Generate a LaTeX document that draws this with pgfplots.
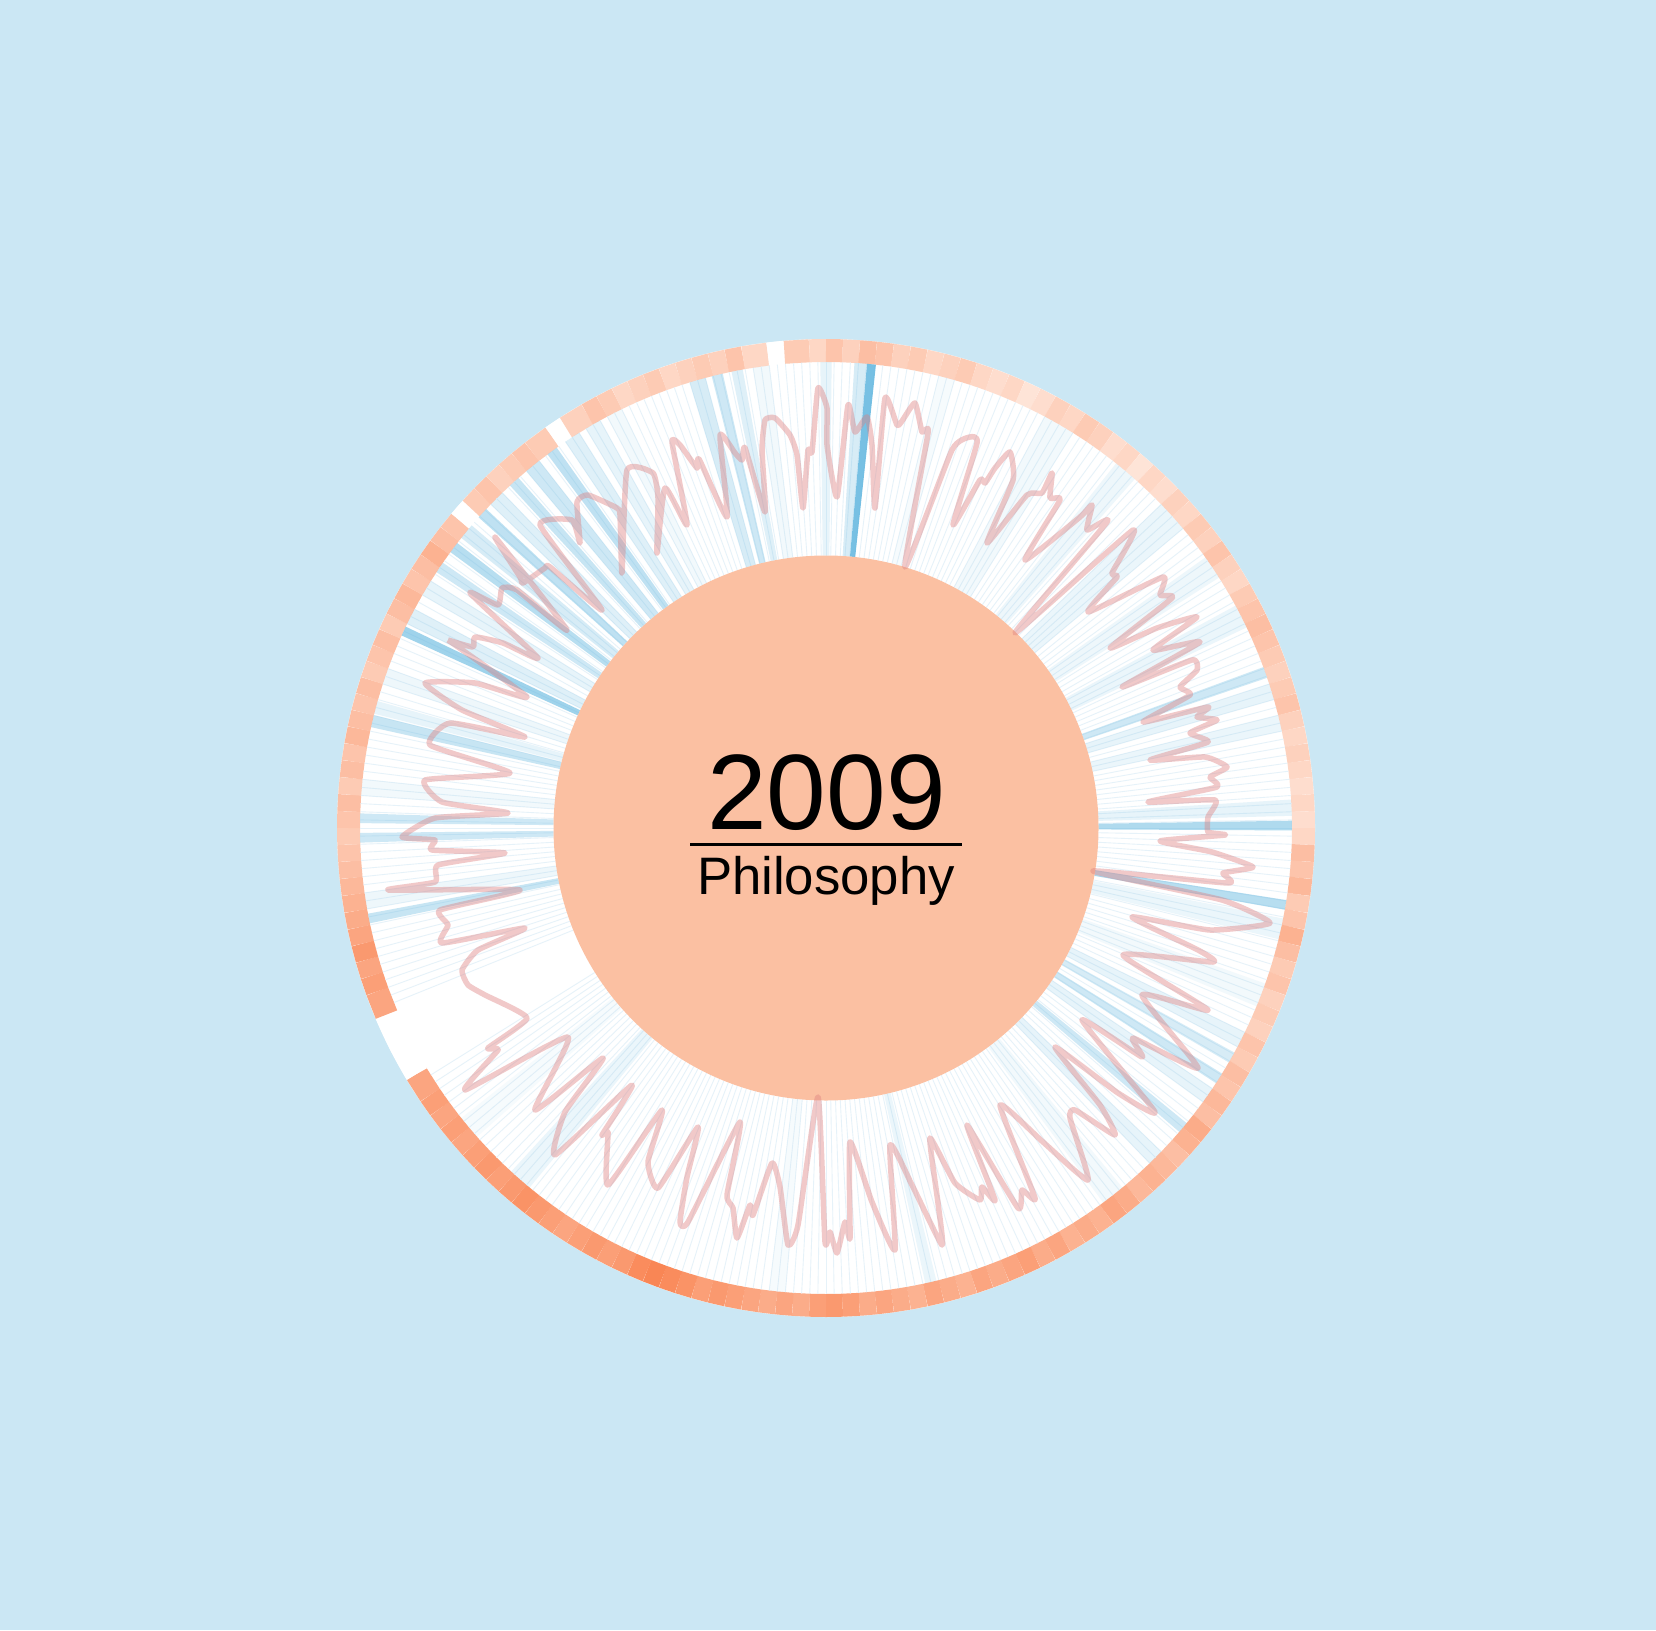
\documentclass[border=0pt]{standalone}
\usepackage{pgfplots}
\pgfplotsset{compat=1.18}
\usepackage{fontspec}
\setmainfont{Liberation Sans}
\definecolor{bgc}{RGB}{203,231,244}
\definecolor{diskc}{RGB}{251,192,162}
\definecolor{spokec}{RGB}{96,182,223}
\definecolor{faintc}{RGB}{230,242,249}
\definecolor{linec}{RGB}{222,128,128}
\begin{document}
\begin{tikzpicture}
\begin{axis}[x=0.1mm, y=0.1mm, xmin=-826, xmax=830, ymin=-828, ymax=802, y dir=reverse,
  hide axis, clip=false, anchor=south west, at={(0,0)},
  colormap={ringmap}{rgb255(0cm)=(255,255,255) rgb255(1cm)=(255,240,232) rgb255(10cm)=(249,128,76)},
  point meta min=0, point meta max=10]
\fill[bgc] (axis cs:-826,-828) rectangle (axis cs:830,802);
\fill[white] (axis cs:0,0) circle[radius=48.9mm];
% outer ring (angle clockwise from east, radius, shade)
\addplot[mesh, data cs=polar, line width=2.3mm, point meta=explicit, forget plot] coordinates {
(0,477.5)[3] (2,477.5)[3] (2,477.5)[5] (4,477.5)[5] (4,477.5)[4.5] (6,477.5)[4.5] (6,477.5)[5.5] (8,477.5)[5.5]
(8,477.5)[4] (10,477.5)[4] (10,477.5)[4.5] (12,477.5)[4.5] (12,477.5)[6] (14,477.5)[6] (14,477.5)[5] (16,477.5)[5]
(16,477.5)[4] (18,477.5)[4] (18,477.5)[4.5] (20,477.5)[4.5] (20,477.5)[3.5] (22,477.5)[3.5] (22,477.5)[4] (24,477.5)[4]
(24,477.5)[3.5] (26,477.5)[3.5] (26,477.5)[4.5] (28,477.5)[4.5] (28,477.5)[4] (30,477.5)[4] (30,477.5)[5] (32,477.5)[5]
(32,477.5)[4.5] (34,477.5)[4.5] (34,477.5)[5.5] (36,477.5)[5.5] (36,477.5)[5] (38,477.5)[5] (38,477.5)[6.5] (40,477.5)[6.5]
(40,477.5)[6] (42,477.5)[6] (42,477.5)[5] (44,477.5)[5] (44,477.5)[5.5] (46,477.5)[5.5] (46,477.5)[6] (48,477.5)[6]
(48,477.5)[5.5] (50,477.5)[5.5] (50,477.5)[6.5] (52,477.5)[6.5] (52,477.5)[7] (54,477.5)[7] (54,477.5)[6] (56,477.5)[6]
(56,477.5)[6.5] (58,477.5)[6.5] (58,477.5)[6] (60,477.5)[6] (60,477.5)[7] (62,477.5)[7] (62,477.5)[6.5] (64,477.5)[6.5]
(64,477.5)[7.5] (66,477.5)[7.5] (66,477.5)[7] (68,477.5)[7] (68,477.5)[6.5] (70,477.5)[6.5] (70,477.5)[7] (72,477.5)[7]
(72,477.5)[6] (74,477.5)[6] (74,477.5)[6.5] (76,477.5)[6.5] (76,477.5)[7] (78,477.5)[7] (78,477.5)[6] (80,477.5)[6]
(80,477.5)[6.5] (82,477.5)[6.5] (82,477.5)[7] (84,477.5)[7] (84,477.5)[6.5] (86,477.5)[6.5] (86,477.5)[7.5] (88,477.5)[7.5]
(88,477.5)[8] (90,477.5)[8] (90,477.5)[7.5] (92,477.5)[7.5] (92,477.5)[6.5] (94,477.5)[6.5] (94,477.5)[7] (96,477.5)[7]
(96,477.5)[6.5] (98,477.5)[6.5] (98,477.5)[7] (100,477.5)[7] (100,477.5)[7.5] (102,477.5)[7.5] (102,477.5)[8] (104,477.5)[8]
(104,477.5)[7.5] (106,477.5)[7.5] (106,477.5)[8.5] (108,477.5)[8.5] (108,477.5)[9] (110,477.5)[9] (110,477.5)[9.5] (112,477.5)[9.5]
(112,477.5)[9] (114,477.5)[9] (114,477.5)[8] (116,477.5)[8] (116,477.5)[7.5] (118,477.5)[7.5] (118,477.5)[8] (120,477.5)[8]
(120,477.5)[7.5] (122,477.5)[7.5] (122,477.5)[7] (124,477.5)[7] (124,477.5)[7.5] (126,477.5)[7.5] (126,477.5)[8] (128,477.5)[8]
(128,477.5)[8.5] (130,477.5)[8.5] (130,477.5)[8] (132,477.5)[8] (132,477.5)[7.5] (134,477.5)[7.5] (134,477.5)[8] (136,477.5)[8]
(136,477.5)[7.5] (138,477.5)[7.5] (138,477.5)[7] (140,477.5)[7] (140,477.5)[7.5] (142,477.5)[7.5] (142,477.5)[7] (144,477.5)[7]
(144,477.5)[7.5] (146,477.5)[7.5] (146,477.5)[7] (149,477.5)[7] (149,477.5)[0] (153,477.5)[0] (153,477.5)[0] (157,477.5)[0]
(157,477.5)[7] (160,477.5)[7] (160,477.5)[7.5] (162,477.5)[7.5] (162,477.5)[7] (164,477.5)[7] (164,477.5)[8] (166,477.5)[8]
(166,477.5)[7] (168,477.5)[7] (168,477.5)[6.5] (170,477.5)[6.5] (170,477.5)[6] (172,477.5)[6] (172,477.5)[5.5] (174,477.5)[5.5]
(174,477.5)[5] (176,477.5)[5] (176,477.5)[4.5] (178,477.5)[4.5] (178,477.5)[4] (180,477.5)[4] (180,477.5)[4.5] (182,477.5)[4.5]
(182,477.5)[5] (184,477.5)[5] (184,477.5)[4] (186,477.5)[4] (186,477.5)[5] (188,477.5)[5] (188,477.5)[4.5] (190,477.5)[4.5]
(190,477.5)[5.5] (192,477.5)[5.5] (192,477.5)[5] (194,477.5)[5] (194,477.5)[4.5] (196,477.5)[4.5] (196,477.5)[5] (198,477.5)[5]
(198,477.5)[4] (200,477.5)[4] (200,477.5)[4.5] (202,477.5)[4.5] (202,477.5)[5] (204,477.5)[5] (204,477.5)[4] (206,477.5)[4]
(206,477.5)[5] (208,477.5)[5] (208,477.5)[5.5] (210,477.5)[5.5] (210,477.5)[4.5] (212,477.5)[4.5] (212,477.5)[5] (214,477.5)[5]
(214,477.5)[6] (216,477.5)[6] (216,477.5)[5] (218,477.5)[5] (218,477.5)[4.5] (220,477.5)[4.5] (220,477.5)[0] (222,477.5)[0]
(222,477.5)[4] (224,477.5)[4] (224,477.5)[4.5] (226,477.5)[4.5] (226,477.5)[3.5] (228,477.5)[3.5] (228,477.5)[4] (230,477.5)[4]
(230,477.5)[4.5] (232,477.5)[4.5] (232,477.5)[4] (235,477.5)[4] (235,477.5)[0] (237,477.5)[0] (237,477.5)[3.5] (240,477.5)[3.5]
(240,477.5)[4.5] (242,477.5)[4.5] (242,477.5)[4] (244,477.5)[4] (244,477.5)[3] (246,477.5)[3] (246,477.5)[3.5] (248,477.5)[3.5]
(248,477.5)[4] (250,477.5)[4] (250,477.5)[3] (252,477.5)[3] (252,477.5)[3.5] (254,477.5)[3.5] (254,477.5)[4] (256,477.5)[4]
(256,477.5)[3.5] (258,477.5)[3.5] (258,477.5)[4.5] (260,477.5)[4.5] (260,477.5)[3] (263,477.5)[3] (263,477.5)[0] (265,477.5)[0]
(265,477.5)[4] (268,477.5)[4] (268,477.5)[3] (270,477.5)[3] (270,477.5)[4.5] (272,477.5)[4.5] (272,477.5)[3.5] (274,477.5)[3.5]
(274,477.5)[5] (276,477.5)[5] (276,477.5)[4.5] (278,477.5)[4.5] (278,477.5)[3.5] (280,477.5)[3.5] (280,477.5)[4] (282,477.5)[4]
(282,477.5)[3] (284,477.5)[3] (284,477.5)[3.5] (286,477.5)[3.5] (286,477.5)[4] (288,477.5)[4] (288,477.5)[3] (290,477.5)[3]
(290,477.5)[2.5] (292,477.5)[2.5] (292,477.5)[3] (294,477.5)[3] (294,477.5)[2] (296,477.5)[2] (296,477.5)[2.5] (298,477.5)[2.5]
(298,477.5)[3.5] (300,477.5)[3.5] (300,477.5)[3] (302,477.5)[3] (302,477.5)[4] (304,477.5)[4] (304,477.5)[3.5] (306,477.5)[3.5]
(306,477.5)[2.5] (308,477.5)[2.5] (308,477.5)[3] (310,477.5)[3] (310,477.5)[2] (312,477.5)[2] (312,477.5)[3] (314,477.5)[3]
(314,477.5)[2.5] (316,477.5)[2.5] (316,477.5)[3.5] (318,477.5)[3.5] (318,477.5)[3] (320,477.5)[3] (320,477.5)[4] (322,477.5)[4]
(322,477.5)[3.5] (324,477.5)[3.5] (324,477.5)[4.5] (326,477.5)[4.5] (326,477.5)[3.5] (328,477.5)[3.5] (328,477.5)[3] (330,477.5)[3]
(330,477.5)[4] (332,477.5)[4] (332,477.5)[4.5] (334,477.5)[4.5] (334,477.5)[5] (336,477.5)[5] (336,477.5)[4.5] (338,477.5)[4.5]
(338,477.5)[4] (340,477.5)[4] (340,477.5)[3.5] (342,477.5)[3.5] (342,477.5)[4] (344,477.5)[4] (344,477.5)[4.5] (346,477.5)[4.5]
(346,477.5)[3.5] (348,477.5)[3.5] (348,477.5)[3] (350,477.5)[3] (350,477.5)[3.5] (352,477.5)[3.5] (352,477.5)[3] (354,477.5)[3]
(354,477.5)[2.5] (356,477.5)[2.5] (356,477.5)[3] (358,477.5)[3] (358,477.5)[2.5] (360,477.5)[2.5]
};
% faint radial separators
\pgfplotsinvokeforeach{0,...,148}{\addplot[draw=faintc, line width=0.25pt, data cs=polar, forget plot] coordinates {(#1,272.5) (#1,466)};}
\pgfplotsinvokeforeach{158,...,359}{\addplot[draw=faintc, line width=0.25pt, data cs=polar, forget plot] coordinates {(#1,272.5) (#1,466)};}
% blue spokes: start angle / end angle / intensity
\foreach \a/\b/\o in {359.1/360.3/0.5, 356.5/358.5/0.15, 8.9/10.1/0.45, 11.2/13.8/0.12, 19.5/22.5/0.08,
  26/28/0.15, 28.8/30.2/0.25, 31.8/33.2/0.3, 34/36/0.15, 39.3/40.7/0.3, 44/46/0.15, 50.5/53.5/0.08,
  76.3/77.7/0.12, 95/97/0.05, 129.5/132.5/0.12, 138.5/141.5/0.05, 168.2/169.4/0.35, 170/172/0.1,
  178.2/179.4/0.3, 180.6/181.8/0.3, 184/186/0.08, 192.5/194/0.35, 194.2/195.8/0.15, 198/200/0.1,
  204.4/205.6/0.6, 206/208/0.2, 210/212/0.15, 213.3/214.7/0.3, 216.3/217.7/0.45, 218.5/220.5/0.25,
  221.8/223.2/0.4, 224/226/0.2, 227.3/228.7/0.35, 230/232/0.3, 233.3/234.7/0.4, 236/238/0.2,
  239/241/0.15, 242/244/0.08, 253/255/0.25, 255.8/257.2/0.3, 258.3/259.7/0.2, 261/263/0.08,
  269.3/270.7/0.15, 273.5/275/0.25, 275.05/276.15/0.85, 284/286/0.05, 298/302/0.08, 308.5/311.5/0.1,
  316/320/0.12, 324.5/327.5/0.1, 331.5/334.5/0.12, 339.8/341.2/0.3, 342/344/0.15, 346/348/0.12}{
  \edef\temp{\noexpand\addplot[draw=none, fill=spokec, fill opacity=\o, data cs=polar, forget plot]
    coordinates {(\a,272.5) (\a,466) (\b,466) (\b,272.5)} -- cycle;}
  \temp
}
\fill[diskc] (axis cs:0,0) circle[radius=27.25mm];
% radial line (image pixel coordinates)
\addplot[draw=linec, opacity=0.42, line width=0.55mm, line join=round, smooth, tension=0.3, forget plot,
  x filter/.expression={x-826}, y filter/.expression={y-828}] coordinates {
(448,640) (473,647) (475,637) (503,643) (538,658) (470,593) (498,605) (502,588) (517,590) (567,630)
(495,537) (520,577) (523,583) (545,568) (550,567) (602,610) (540,525) (572,520) (580,543) (577,502)
(588,495) (617,508) (620,515) (622,573) (627,470) (653,473) (658,498) (657,553)
(665,488) (687,525) (672,442) (680,445) (697,468) (699,459) (727,517) (720,435) (735,453) (742,460)
(745,448) (765,512) (762,450) (765,420) (775,418) (790,435) (797,455) (803,508) (808,450) (812,452)
(818,388) (827,408) (827,445) (837,497) (848,405) (855,432) (867,417) (872,445) (875,508) (885,398)
(897,425) (902,421) (915,403) (922,432) (928,433) (905,567) (952,450) (970,437) (977,443) (953,525)
(980,480) (985,483) (995,468)
(1010,452) (1013,480) (987,543) (1027,495) (1042,493) (1052,473) (1050,498) (1060,500) (1025,560)
(1080,517) (1092,505) (1087,530) (1107,522) (1015,633) (1133,530) (1112,573) (1117,577) (1088,612)
(1163,577) (1160,595) (1172,598) (1110,648)
(1157,628) (1197,617) (1153,650) (1200,642) (1122,687) (1192,660) (1197,670) (1180,687) (1190,695)
(1143,722) (1208,707) (1197,717) (1217,720) (1190,733) (1208,742) (1150,760) (1205,757) (1227,767)
(1210,777) (1217,787)
(1148,802) (1215,800) (1208,817) (1208,832) (1225,835) (1160,841) (1212,852) (1253,867) (1223,873)
(1228,883) (1093,871) (1222,900) (1270,923) (1210,930) (1132,917) (1198,950) (1213,962) (1123,955)
(1208,1010) (1142,995) (1198,1068) (1133,1038) (1142,1057) (1082,1020) (1155,1112) (1118,1093)
(1055,1047) (1100,1105) (1115,1135) (1075,1110) (1070,1118) (1088,1180) (1043,1142) (1000,1105)
(1035,1198) (1022,1190) (1018,1208)
(967,1125) (995,1200) (982,1187) (980,1200) (955,1183) (930,1138) (938,1203) (942,1245) (912,1185)
(890,1145) (895,1250) (872,1202) (850,1142) (850,1238) (845,1222) (837,1253) (830,1232) (825,1242)
(818,1097) (798,1225) (788,1245) (780,1187) (772,1163) (753,1215) (750,1205) (737,1238) (733,1208)
(727,1195) (740,1122) (688,1222) (680,1222) (687,1177) (698,1127)
(658,1188) (648,1162) (662,1110) (608,1185) (608,1132) (602,1135) (632,1085) (555,1155) (565,1112)
(603,1058) (535,1110) (568,1037) (465,1090) (498,1050) (488,1048) (527,1018) (485,995)
(468,985) (462,970) (478,950) (525,928) (442,943) (448,925) (440,910) (520,890) (388,890) (435,882)
(438,865) (505,853) (432,850) (435,840) (402,837) (435,818) (508,813) (442,802) (425,780) (510,773)
(430,745) (450,723) (525,737) (462,710) (425,683) (475,683) (527,697) (448,640)
};
\node[anchor=base, inner sep=0pt, font=\fontsize{30.5pt}{32pt}\selectfont] at (axis cs:0.5,1) {2009};
\draw[line width=0.85pt] (axis cs:-136,16) -- (axis cs:136,16);
\node[anchor=base, inner sep=0pt, font=\fontsize{15pt}{17pt}\selectfont] at (axis cs:0,66) {Philosophy};
\end{axis}
\end{tikzpicture}
\end{document}
